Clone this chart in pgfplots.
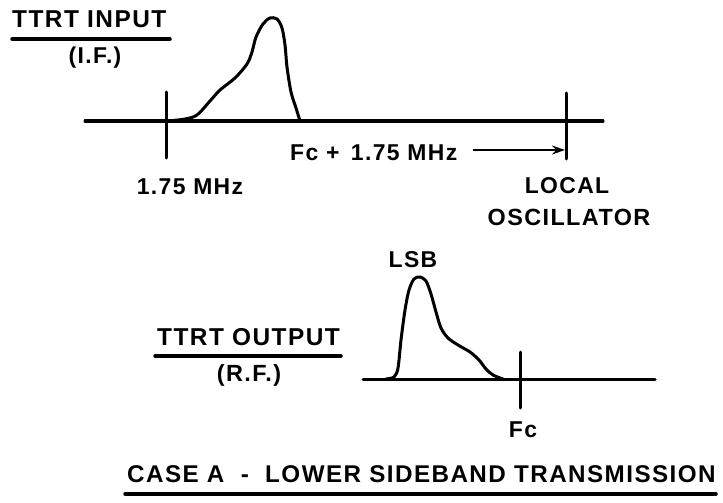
\documentclass[border=0pt]{standalone}
\usepackage{pgfplots}
\pgfplotsset{compat=1.18}
\usepackage{fontspec}
\setmainfont{Liberation Sans}
\usetikzlibrary{arrows.meta}
\newfontfamily\lbl[LetterSpace=6]{Liberation Sans}
\begin{document}
\begin{tikzpicture}
\begin{axis}[
  width=723bp, height=503bp, scale only axis,
  xmin=0, xmax=723, ymin=0, ymax=503, y dir=reverse,
  hide axis, clip=false,
  ln/.style={black, solid, mark=none, line width=3bp, line cap=round, line join=round},
]
\addplot[draw=none, mark=none] coordinates {(0,0) (723,503)};
% top spectrum
\addplot[ln] coordinates {(85,121) (603,121)};
\addplot[ln] coordinates {(166,92) (166,158)};
\addplot[ln] coordinates {(566,93) (566,159)};
\addplot[ln, smooth, tension=0.5] coordinates {
 (168,121) (185,119) (197,115) (210,101) (220,90) (235,78) (247,64) (252,52) (256,37) (263,24) (270,18) (277,19) (282,28) (285,45) (287,67) (291,92) (296,108) (300,121)};
\addplot[black, solid, mark=none, line width=2bp, -{Stealth[length=13bp,width=9bp]}] coordinates {(473,150) (565,150)};
% bottom spectrum
\addplot[ln] coordinates {(363,379) (655,379)};
\addplot[ln] coordinates {(520,352) (520,408)};
\addplot[ln, smooth, tension=0.5] coordinates {
 (386,379) (394,377) (398,368) (401,340) (405,310) (409,290) (414,279) (420,277) (426,281) (431,294) (436,312) (441,328) (448,338) (458,345) (470,352) (479,360) (486,369) (493,375) (503,379)};
% title underlines
\addplot[ln, line width=3.5bp] coordinates {(12,39) (170,39)};
\addplot[ln, line width=3.5bp] coordinates {(155,356) (341,356)};
\addplot[ln, line width=3.5bp] coordinates {(125,494) (716,494)};
% labels
\node[font=\lbl\bfseries\fontsize{24.5}{28}\selectfont, anchor=base west, inner sep=0pt] at (axis cs:12,28) {TTRT INPUT};
\node[font=\lbl\bfseries\fontsize{23}{26}\selectfont] at (axis cs:95,58) {(I.F.)};
\node[font=\lbl\bfseries\fontsize{23}{26}\selectfont] at (axis cs:190,187) {1.75 MHz};
\node[font=\lbl\bfseries\fontsize{23}{26}\selectfont, anchor=base west, inner sep=0pt] at (axis cs:290,160) {Fc + \,1.75 MHz};
\node[font=\lbl\bfseries\fontsize{23}{26}\selectfont] at (axis cs:567,186) {LOCAL};
\node[font=\lbl\bfseries\fontsize{23.5}{26}\selectfont] at (axis cs:569,217) {OSCILLATOR};
\node[font=\lbl\bfseries\fontsize{23}{26}\selectfont] at (axis cs:413,260) {LSB};
\node[font=\lbl\bfseries\fontsize{24.5}{26}\selectfont, anchor=base west, inner sep=0pt] at (axis cs:157,345) {TTRT OUTPUT};
\node[font=\lbl\bfseries\fontsize{23.5}{26}\selectfont] at (axis cs:249,375) {(R.F.)};
\node[font=\lbl\bfseries\fontsize{23}{26}\selectfont] at (axis cs:523,430) {Fc};
\node[font=\lbl\bfseries\fontsize{24.3}{28}\selectfont, anchor=base west, inner sep=0pt] at (axis cs:127,482) {CASE A \ -\ \ LOWER SIDEBAND TRANSMISSION};
\end{axis}
\end{tikzpicture}
\end{document}
